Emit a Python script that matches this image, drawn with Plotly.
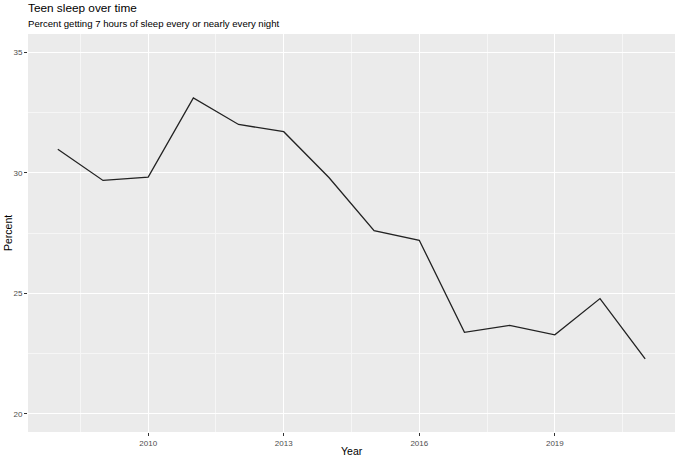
import plotly.graph_objects as go

years = [2008, 2009, 2010, 2011, 2012, 2013, 2014, 2015, 2016, 2017, 2018, 2019, 2020, 2021]
percent = [30.97, 29.68, 29.82, 33.1, 32.0, 31.7, 29.8, 27.6, 27.2, 23.38, 23.67, 23.28, 24.78, 22.28]
x_ticks = [2010, 2013, 2016, 2019]
y_ticks = [20, 25, 30, 35]

FONT = "Liberation Sans, Arial, sans-serif"

fig = go.Figure()
fig.add_trace(go.Scatter(x=years, y=percent, mode="lines",
                         line=dict(color="#222222", width=1.3), hoverinfo="skip"))

fig.update_layout(
    width=680, height=459,
    margin=dict(l=28, r=5, t=34, b=27, autoexpand=False),
    paper_bgcolor="white",
    plot_bgcolor="#EBEBEB",
    showlegend=False,
    font=dict(family=FONT, color="#4D4D4D"),
    xaxis=dict(
        range=[2007.34, 2021.66], automargin=False,
        tickvals=x_ticks, ticktext=[str(v) for v in x_ticks],
        showgrid=True, gridcolor="white", gridwidth=1.2,
        minor=dict(tickvals=[2008.5, 2011.5, 2014.5, 2017.5, 2020.5],
                   showgrid=True, gridcolor="#F6F6F6", gridwidth=0.6, ticks=""),
        zeroline=False, showline=False,
        ticks="outside", ticklen=3, tickcolor="#333333", tickwidth=1,
        tickfont=dict(size=8, color="#4D4D4D"),
    ),
    yaxis=dict(
        range=[19.25, 35.75], automargin=False,
        tickvals=y_ticks, ticktext=[str(v) for v in y_ticks],
        showgrid=True, gridcolor="white", gridwidth=1.2,
        minor=dict(tickvals=[22.5, 27.5, 32.5],
                   showgrid=True, gridcolor="#F6F6F6", gridwidth=0.6, ticks=""),
        zeroline=False, showline=False,
        ticks="outside", ticklen=3, tickcolor="#333333", tickwidth=1,
        tickfont=dict(size=8, color="#4D4D4D"),
    ),
    annotations=[
        dict(text="Teen sleep over time", x=0, y=1, xref="paper", yref="paper",
             xanchor="left", yanchor="middle", xshift=-2, yshift=26, showarrow=False,
             font=dict(family=FONT, size=11.8, color="#000000")),
        dict(text="Percent getting 7 hours of sleep every or nearly every night", x=0, y=1,
             xref="paper", yref="paper", xanchor="left", yanchor="middle", xshift=-2, yshift=11,
             showarrow=False, font=dict(family=FONT, size=9.6, color="#000000")),
        dict(text="Year", x=0.5, y=0, xref="paper", yref="paper",
             xanchor="center", yanchor="middle", yshift=-19, showarrow=False,
             font=dict(family=FONT, size=10.5, color="#000000")),
        dict(text="Percent", x=0, y=0.5, xref="paper", yref="paper", textangle=-90,
             xanchor="center", yanchor="middle", xshift=-20, showarrow=False,
             font=dict(family=FONT, size=10.5, color="#000000")),
    ],
)

fig.write_html("out.html")
